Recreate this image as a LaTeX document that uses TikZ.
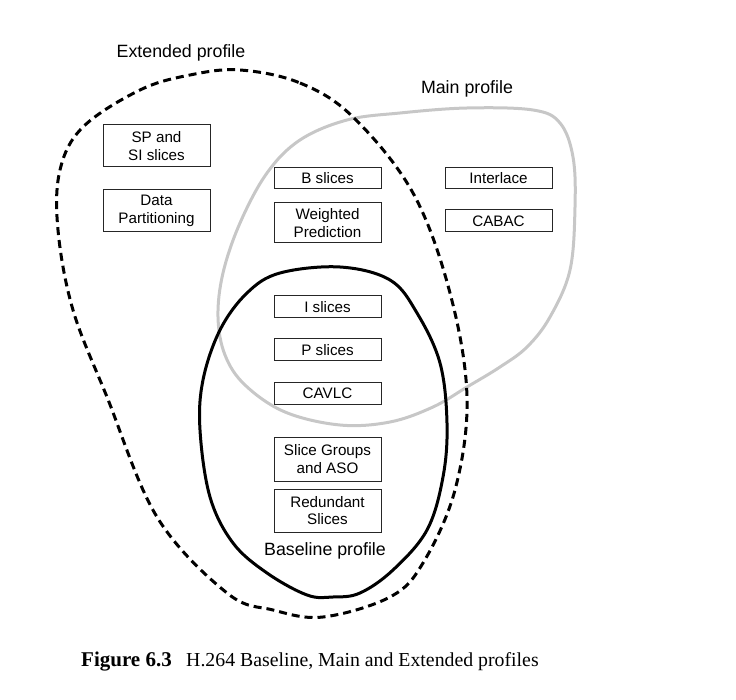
\documentclass[tikz,border=0pt]{standalone}
\usepackage{fontspec}
\setmainfont{Liberation Serif}
\newfontfamily\arialf{Liberation Sans}
\begin{document}
\begin{tikzpicture}[x=1pt,y=-1pt,
  feat/.style={draw=black!85,line width=1pt,minimum width=107pt,inner sep=0pt,
    align=center,font=\arialf\fontsize{15.2}{17.7}\selectfont},
  lbl/.style={font=\arialf\fontsize{17.8}{20}\selectfont,inner sep=0pt},
  ext/.style={line width=3pt,dash pattern=on 8pt off 5pt},
  mainp/.style={line width=3pt,draw=black!22},
  basep/.style={line width=3pt}]
\useasboundingbox (0,0) rectangle (736,700);
% Main profile (gray)
\draw[mainp] plot[smooth cycle,tension=0.6] coordinates {
 (467,108) (533,110) (560,123) (573,157) (575,207) (570,270) (550,317) (527,347)
 (500,367) (467,387) (433,407) (390,422) (340,425) (285,412) (245,385) (225,355)
 (218,317) (223,273) (240,223) (267,173) (300,140) (347,120) (400,113)};
% Extended profile (dashed)
\draw[ext] plot[smooth cycle,tension=0.6] coordinates {
 (240,70) (300,83) (353,117) (413,193) (450,293) (467,397) (455,490) (423,563)
 (390,597) (323,617) (273,610) (227,593) (157,517) (107,397) (73,310) (58,230)
 (60,170) (83,127) (140,90) (190,75)};
% Baseline profile (solid)
\draw[basep] plot[smooth cycle,tension=0.6] coordinates {
 (340,267) (390,280) (417,313) (440,363) (447,423) (443,477) (427,530) (393,570)
 (360,593) (333,597) (307,595) (267,573) (233,543) (210,497) (200,430) (203,380)
 (220,330) (247,293) (280,273)};
% feature boxes
\node[feat,minimum height=42pt] (sp) at (156.5,146) {SP and\\SI slices};
\node[feat,minimum height=42pt] (dp) at (156.5,211) {Data\\Partitioning};
\node[feat,minimum height=21pt] (bs) at (327.5,178.5) {B slices};
\node[feat,minimum height=40pt] (wp) at (327.5,223) {Weighted\\Prediction};
\node[feat,minimum height=21pt] (il) at (498.5,178.5) {Interlace};
\node[feat,minimum height=22pt] (cb) at (498.5,221) {CABAC};
\node[feat,minimum height=22pt] (is) at (327.5,307) {I slices};
\node[feat,minimum height=22pt] (ps) at (327.5,350) {P slices};
\node[feat,minimum height=22pt] (cv) at (327.5,393) {CAVLC};
\node[feat,minimum height=44pt] (sg) at (327.5,459) {Slice Groups\\and ASO};
\node[feat,minimum height=43pt] (rs) at (327.5,510.5) {Redundant\\Slices};
% labels
\node[lbl] (le) at (181,53) {Extended profile};
\node[lbl] (lm) at (467,89) {Main profile};
\node[lbl] (lb) at (325,551) {Baseline profile};
% caption
\node[anchor=base west,inner sep=0pt,font=\fontsize{21}{24}\selectfont\bfseries] (capa) at (81,666)
 {Figure 6.3};
\node[anchor=base west,inner sep=0pt,font=\fontsize{19.8}{23}\selectfont] (capb) at ([xshift=14pt]capa.base east)
 {H.264 Baseline, Main and Extended profiles};
\end{tikzpicture}
\end{document}
